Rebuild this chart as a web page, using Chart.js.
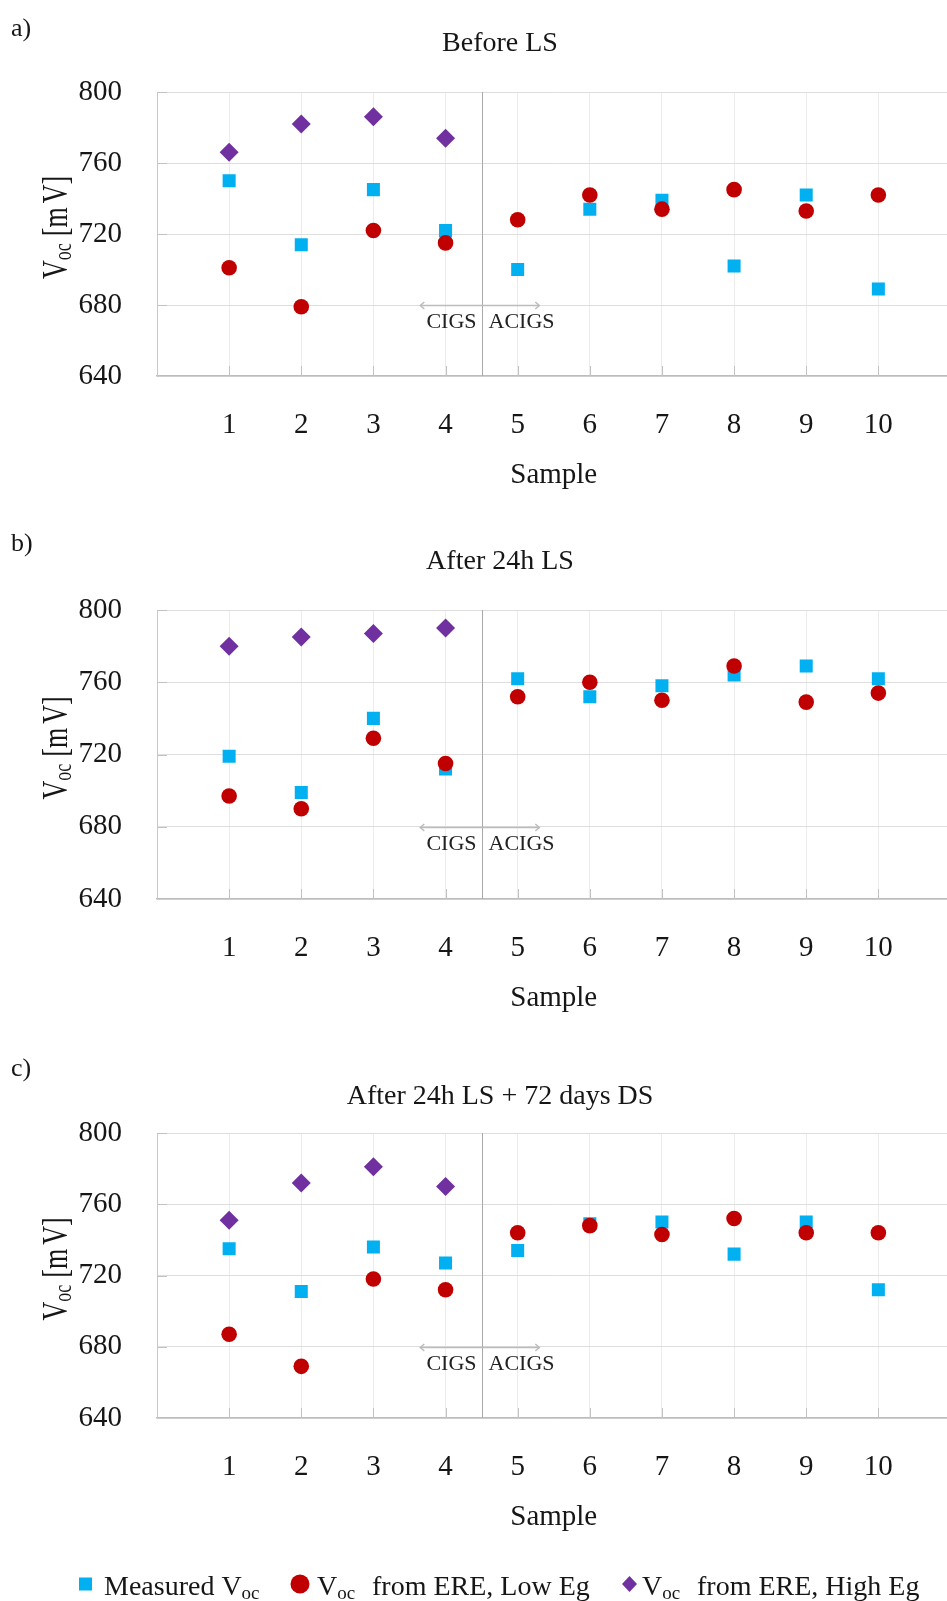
<!DOCTYPE html>
<html>
<head>
<meta charset="utf-8">
<script src="https://cdn.jsdelivr.net/npm/chart.js@4.4.1/dist/chart.umd.min.js"></script>
<style>
  html, body { margin: 0; padding: 0; background: #fff; overflow: hidden; }
  body { width: 947px; height: 1601px; position: relative; }
  #wrap { position: absolute; left: 0; top: 0; width: 960px; height: 1601px; }
  .panel { position: absolute; left: 0; width: 960px; }
</style>
</head>
<body>
<div id="wrap">
  <div class="panel" style="top:0px;height:510px"><canvas id="chartA" width="960" height="510"></canvas></div>
  <div class="panel" style="top:515px;height:520px"><canvas id="chartB" width="960" height="520"></canvas></div>
  <div class="panel" style="top:1040px;height:561px"><canvas id="chartC" width="960" height="561"></canvas></div>
</div>
<script>
// sample numbers on the x axis; high-Eg estimate exists only for CIGS samples
const samples = [1, 2, 3, 4, 5, 6, 7, 8, 9, 10];
const cigsSamples = [1, 2, 3, 4];
const yTicks = [640, 680, 720, 760, 800];

// a) Before LS
const measuredA = [750, 714, 745, 722, 700, 734, 739, 702, 742, 689];
const lowEgA    = [701, 679, 722, 715, 728, 742, 734, 745, 733, 742];
const highEgA   = [766, 782, 786, 774];

// b) After 24h LS
const measuredB = [719, 699, 740, 712, 762, 752, 758, 764, 769, 762];
const lowEgB    = [697, 690, 729, 715, 752, 760, 750, 769, 749, 754];
const highEgB   = [780, 785, 787, 790];

// c) After 24h LS + 72 days DS
const measuredC = [735, 711, 736, 727, 734, 749, 750, 732, 750, 712];
const lowEgC    = [687, 669, 718, 712, 744, 748, 743, 752, 744, 744];
const highEgC   = [751, 772, 781, 770];

const SERIF = '"Liberation Serif", "Times New Roman", serif';
const BLUE = '#00b0f0', RED = '#c00000', PURPLE = '#7030a0';
const TEXT = '#161616';

// CIGS / ACIGS divider and arrow
const splitAt = 4.5, arrowFrom = 3.65, arrowTo = 5.3, arrowY = 680;

function points(xs, ys) {
  return xs.map((x, i) => ({ x: x, y: ys[i] }));
}

// Voc with a subscript, drawn piece by piece
function drawVoc(ctx, x, y, size, subSize, drop) {
  ctx.font = size + 'px ' + SERIF;
  ctx.fillText('V', x, y);
  const w = ctx.measureText('V').width;
  ctx.font = subSize + 'px ' + SERIF;
  ctx.fillText('oc', x + w, y + drop);
  return x + w + ctx.measureText('oc').width;
}

function decor(o) {
  return {
    id: 'decor',
    beforeDatasetsDraw(chart) {
      const { ctx, chartArea: a, scales: { x, y } } = chart;
      ctx.save();
      // short inner tick marks
      ctx.strokeStyle = '#c2c2c2';
      ctx.lineWidth = 1;
      samples.forEach(s => {
        const px = Math.round(x.getPixelForValue(s)) + 0.5;
        ctx.beginPath(); ctx.moveTo(px, a.bottom); ctx.lineTo(px, a.bottom - 10); ctx.stroke();
      });
      yTicks.slice(1).forEach(v => {
        const py = Math.round(y.getPixelForValue(v)) + 0.5;
        ctx.beginPath(); ctx.moveTo(a.left, py); ctx.lineTo(a.left + 10, py); ctx.stroke();
      });
      // divider
      const sx = Math.round(x.getPixelForValue(splitAt)) + 0.5;
      ctx.strokeStyle = '#a9a9a9';
      ctx.beginPath(); ctx.moveTo(sx, a.top); ctx.lineTo(sx, a.bottom); ctx.stroke();
      // double arrow
      const ay = Math.round(y.getPixelForValue(arrowY)) + 0.5;
      const x0 = x.getPixelForValue(arrowFrom), x1 = x.getPixelForValue(arrowTo);
      ctx.strokeStyle = '#bcbcbc';
      ctx.lineWidth = 1.5;
      ctx.beginPath(); ctx.moveTo(x0, ay); ctx.lineTo(x1, ay); ctx.stroke();
      ctx.beginPath();
      ctx.moveTo(x0 + 4, ay - 3.5); ctx.lineTo(x0, ay); ctx.lineTo(x0 + 4, ay + 3.5);
      ctx.moveTo(x1 - 4, ay - 3.5); ctx.lineTo(x1, ay); ctx.lineTo(x1 - 4, ay + 3.5);
      ctx.stroke();
      ctx.fillStyle = '#222';
      ctx.font = '22px ' + SERIF;
      ctx.textBaseline = 'alphabetic';
      ctx.textAlign = 'right';
      ctx.fillText('CIGS', sx - 6, ay + 22);
      ctx.textAlign = 'left';
      ctx.fillText('ACIGS', sx + 6, ay + 22);
      ctx.restore();
    },
    afterDraw(chart) {
      const { ctx, chartArea: a } = chart;
      ctx.save();
      ctx.fillStyle = TEXT;
      ctx.textBaseline = 'alphabetic';
      // panel letter and title
      ctx.textAlign = 'left';
      ctx.font = '26px ' + SERIF;
      ctx.fillText(o.letter, 11, o.letterY);
      ctx.textAlign = 'center';
      ctx.font = '28px ' + SERIF;
      ctx.fillText(o.title, 500, o.titleY);
      // y axis title, rotated
      ctx.save();
      ctx.translate(67, (a.top + a.bottom) / 2 - 7);
      ctx.rotate(-Math.PI / 2);
      ctx.scale(1, 1.35);
      ctx.textAlign = 'left';
      let cx = -52;
      cx = drawVoc(ctx, cx, 0, 26, 18, 3);
      ctx.font = '26px ' + SERIF;
      cx += 7;
      ctx.fillText('[m', cx, 0); cx += ctx.measureText('[m').width + 4;
      ctx.fillText('V]', cx, 0);
      ctx.restore();
      // legend (bottom panel only)
      if (o.legendY) {
        const ly = o.legendY;
        ctx.textAlign = 'left';
        ctx.fillStyle = BLUE;
        ctx.fillRect(79, ly - 6.5, 13, 13);
        ctx.fillStyle = TEXT;
        ctx.font = '28px ' + SERIF;
        ctx.fillText('Measured ', 104, ly + 11);
        let lx = 104 + ctx.measureText('Measured ').width;
        drawVoc(ctx, lx, ly + 11, 28, 19, 4);

        ctx.fillStyle = RED;
        ctx.beginPath(); ctx.arc(300, ly, 9.5, 0, Math.PI * 2); ctx.fill();
        ctx.fillStyle = TEXT;
        drawVoc(ctx, 317, ly + 11, 28, 19, 4);
        ctx.font = '28px ' + SERIF;
        ctx.fillText('from ERE, Low Eg', 372, ly + 11);

        ctx.fillStyle = PURPLE;
        ctx.beginPath();
        ctx.moveTo(629.5, ly - 8); ctx.lineTo(637, ly); ctx.lineTo(629.5, ly + 8); ctx.lineTo(622, ly);
        ctx.closePath(); ctx.fill();
        ctx.fillStyle = TEXT;
        drawVoc(ctx, 642, ly + 11, 28, 19, 4);
        ctx.font = '28px ' + SERIF;
        ctx.fillText('from ERE, High Eg', 697, ly + 11);
      }
      ctx.restore();
    }
  };
}

function makePanel(id, measured, lowEg, highEg, o) {
  return new Chart(document.getElementById(id), {
    type: 'scatter',
    data: {
      datasets: [
        { label: 'Measured Voc', data: points(samples, measured), pointStyle: 'rect',
          pointRadius: 9.2, backgroundColor: BLUE, borderWidth: 0, order: 1 },
        { label: 'Voc from ERE, Low Eg', data: points(samples, lowEg), pointStyle: 'circle',
          pointRadius: 7.8, backgroundColor: RED, borderWidth: 0, order: 0 },
        { label: 'Voc from ERE, High Eg', data: points(cigsSamples, highEg), pointStyle: 'rectRot',
          pointRadius: 9.5, backgroundColor: PURPLE, borderWidth: 0, order: 2 }
      ]
    },
    options: {
      responsive: false,
      animation: false,
      events: [],
      layout: { padding: { top: o.padTop, bottom: o.padBottom, left: 0, right: 3 } },
      plugins: { legend: { display: false }, tooltip: { enabled: false } },
      scales: {
        x: {
          type: 'linear', min: 0, max: 11,
          // fixed axis height; no side padding so the plot runs to x = 11
          afterFit: s => { s.height = 130; s.paddingLeft = 0; s.paddingRight = 0; },
          ticks: {
            stepSize: 1, padding: 32, color: TEXT, autoSkip: false, maxRotation: 0,
            font: { family: SERIF, size: 29 },
            callback: v => (v >= 1 && v <= 10) ? String(v) : ''
          },
          grid: {
            drawTicks: false,
            color: c => (c.tick && c.tick.value >= 1 && c.tick.value <= 10) ? '#ececec' : 'rgba(0,0,0,0)'
          },
          border: { color: '#bdbdbd', width: 1.5 },
          title: {
            display: true, text: 'Sample', color: TEXT,
            font: { family: SERIF, size: 29 }, padding: { top: 0, bottom: 13 }
          }
        },
        y: {
          min: 640, max: 800,
          afterFit: s => { s.width = 157; },
          ticks: { stepSize: 40, padding: 35, color: TEXT, font: { family: SERIF, size: 29 } },
          grid: { drawTicks: false, color: '#dedede' },
          border: { color: '#c8c8c8', width: 1 }
        }
      }
    },
    plugins: [decor(o)]
  });
}

makePanel('chartA', measuredA, lowEgA, highEgA,
  { padTop: 92, padBottom: 4, letter: 'a)', letterY: 36, title: 'Before LS', titleY: 51 });
makePanel('chartB', measuredB, lowEgB, highEgB,
  { padTop: 95, padBottom: 6, letter: 'b)', letterY: 36, title: 'After 24h LS', titleY: 54 });
makePanel('chartC', measuredC, lowEgC, highEgC,
  { padTop: 93, padBottom: 53, letter: 'c)', letterY: 36, title: 'After 24h LS + 72 days DS', titleY: 64,
    legendY: 544 });
</script>
</body>
</html>
